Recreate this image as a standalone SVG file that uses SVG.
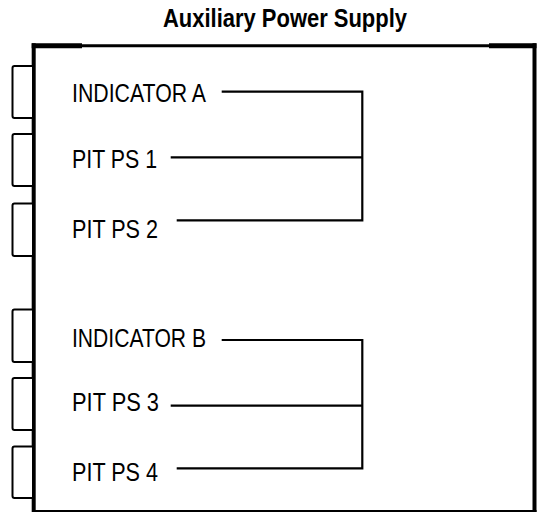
<svg xmlns="http://www.w3.org/2000/svg" width="539" height="514" viewBox="0 0 539 514">
<style>
.lbl{font-family:"Liberation Sans",Arial,sans-serif;font-size:26px;fill:#000}
.title{font-family:"Liberation Sans",Arial,sans-serif;font-size:26px;font-weight:bold;fill:#000}
.tab{fill:#fff;stroke:#000;stroke-width:2}
.wire{fill:none;stroke:#000;stroke-width:2.2}
</style>
<rect width="539" height="514" fill="#fff"/>
<text class="title" x="163" y="27" textLength="244" lengthAdjust="spacingAndGlyphs">Auxiliary Power Supply</text>
<g id="enclosure">
<rect x="33.7" y="45.7" width="500.8" height="465" fill="#fff" stroke="none"/>
<line x1="82" y1="45.8" x2="489" y2="45.8" stroke="#000" stroke-width="3"/>
<line x1="31.7" y1="45.7" x2="82" y2="45.7" stroke="#000" stroke-width="5"/>
<line x1="489" y1="45.7" x2="536.5" y2="45.7" stroke="#000" stroke-width="5"/>
<line x1="33.7" y1="43.2" x2="33.7" y2="512" stroke="#000" stroke-width="4"/>
<line x1="534.5" y1="43.2" x2="534.5" y2="512" stroke="#000" stroke-width="4"/>
<line x1="33" y1="511" x2="536.5" y2="511" stroke="#000" stroke-width="2.2"/>
</g>
<g id="tab1"><path class="tab" d="M32,66 H14.5 Q12.5,66 12.5,68 V116 Q12.5,118 14.5,118 H32"/></g>
<g id="tab2"><path class="tab" d="M32,134 H14.5 Q12.5,134 12.5,136 V184 Q12.5,186 14.5,186 H32"/></g>
<g id="tab3"><path class="tab" d="M32,203.5 H14.5 Q12.5,203.5 12.5,205.5 V254 Q12.5,256 14.5,256 H32"/></g>
<g id="tab4"><path class="tab" d="M32,309.5 H14.5 Q12.5,309.5 12.5,311.5 V360 Q12.5,362 14.5,362 H32"/></g>
<g id="tab5"><path class="tab" d="M32,378 H14.5 Q12.5,378 12.5,380 V428 Q12.5,430 14.5,430 H32"/></g>
<g id="tab6"><path class="tab" d="M32,446.5 H14.5 Q12.5,446.5 12.5,448.5 V496 Q12.5,498 14.5,498 H32"/></g>
<g id="indicator-a"><text class="lbl" x="72" y="102" textLength="134" lengthAdjust="spacingAndGlyphs">INDICATOR A</text></g>
<g id="pit-ps-1"><text class="lbl" x="72" y="168" textLength="85" lengthAdjust="spacingAndGlyphs">PIT PS 1</text></g>
<g id="pit-ps-2"><text class="lbl" x="72" y="238" textLength="86" lengthAdjust="spacingAndGlyphs">PIT PS 2</text></g>
<g id="indicator-b"><text class="lbl" x="72" y="347" textLength="134" lengthAdjust="spacingAndGlyphs">INDICATOR B</text></g>
<g id="pit-ps-3"><text class="lbl" x="72" y="411" textLength="87" lengthAdjust="spacingAndGlyphs">PIT PS 3</text></g>
<g id="pit-ps-4"><text class="lbl" x="72" y="481" textLength="86" lengthAdjust="spacingAndGlyphs">PIT PS 4</text></g>
<g id="connectors">
<path class="wire" d="M221.7,91.7 H362.3 V220.3 H176.7"/>
<path class="wire" d="M170.7,157.3 H362.3"/>
<path class="wire" d="M221.7,340 H362.3 V468.3 H176.7"/>
<path class="wire" d="M170.7,405.7 H362.3"/>
</g>
</svg>
